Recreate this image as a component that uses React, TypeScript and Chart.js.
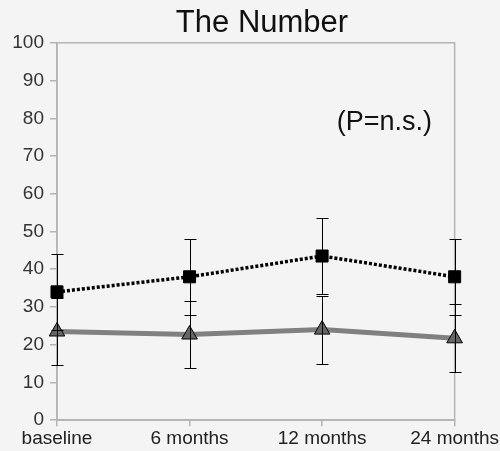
import React, { useEffect, useRef } from "react";
import { Chart, registerables } from "chart.js";

Chart.register(...registerables);

const categories = ["baseline", "6 months", "12 months", "24 months"];
const squareValues = [34, 38, 43.5, 38];
const squareErrors = [10, 10, 10, 10];
const triangleValues = [23.5, 22.7, 24, 21.7];
const triangleErrors = [9, 9, 9, 9];
const yTicks = [0, 10, 20, 30, 40, 50, 60, 70, 80, 90, 100];
const titleText = "The Number";
const noteText = "(P=n.s.)";

const FONT = "'Liberation Sans', Arial, sans-serif";

const errorBarPlugin = {
  id: "errorBars",
  afterDatasetsDraw(chart: any) {
    const { ctx, scales } = chart;
    const x = scales.x;
    const y = scales.y;
    const sets = [
      { vals: squareValues, errs: squareErrors },
      { vals: triangleValues, errs: triangleErrors },
    ];
    ctx.save();
    ctx.strokeStyle = "#000";
    ctx.lineWidth = 1;
    const cap = 6;
    sets.forEach((s) => {
      s.vals.forEach((v, i) => {
        const px = Math.round(x.getPixelForValue(i)) + 0.5;
        const top = Math.round(y.getPixelForValue(v + s.errs[i])) + 0.5;
        const bot = Math.round(y.getPixelForValue(v - s.errs[i])) + 0.5;
        ctx.beginPath();
        ctx.moveTo(px, top);
        ctx.lineTo(px, bot);
        ctx.moveTo(px - cap, top);
        ctx.lineTo(px + cap, top);
        ctx.moveTo(px - cap, bot);
        ctx.lineTo(px + cap, bot);
        ctx.stroke();
      });
    });
    ctx.restore();
  },
};

const framePlugin = {
  id: "frame",
  beforeDatasetsDraw(chart: any) {
    const { ctx, chartArea } = chart;
    ctx.save();
    ctx.strokeStyle = "#b4b4b4";
    ctx.lineWidth = 1.5;
    ctx.strokeRect(chartArea.left, chartArea.top, chartArea.right - chartArea.left, chartArea.bottom - chartArea.top);
    ctx.restore();
  },
  afterDraw(chart: any) {
    const { ctx, scales } = chart;
    ctx.save();
    ctx.fillStyle = "#111";
    ctx.font = `27px ${FONT}`;
    ctx.textAlign = "center";
    ctx.textBaseline = "middle";
    ctx.fillText(noteText, scales.x.getPixelForValue(2.47), scales.y.getPixelForValue(79));
    ctx.font = `31px ${FONT}`;
    ctx.fillText(titleText, 262, 23);
    ctx.restore();
  },
};

const bgPlugin = {
  id: "bg",
  beforeDraw(chart: any) {
    const { ctx, width, height } = chart;
    ctx.save();
    ctx.fillStyle = "#f4f4f4";
    ctx.fillRect(0, 0, width, height);
    ctx.restore();
  },
};

export default function App() {
  const ref = useRef<HTMLCanvasElement>(null);
  useEffect(() => {
    if (!ref.current) return;
    const chart = new Chart(ref.current, {
      type: "line",
      data: {
        labels: categories,
        datasets: [
          {
            label: "A",
            data: squareValues,
            borderColor: "#000",
            borderWidth: 3.5,
            borderDash: [3, 2],
            pointStyle: "rect",
            pointRadius: 8.5,
            pointBackgroundColor: "#000",
            pointBorderColor: "#000",
            pointBorderWidth: 1,
            tension: 0,
          },
          {
            label: "B",
            data: triangleValues,
            borderColor: "#808080",
            borderWidth: 5,
            pointStyle: "triangle",
            pointRadius: 9,
            pointBackgroundColor: "#666",
            pointBorderColor: "#000",
            pointBorderWidth: 1,
            tension: 0,
          },
        ],
      },
      options: {
        animation: false,
        responsive: false,
        layout: { padding: { left: 0, right: 0, top: 0, bottom: 0 } },
        plugins: {
          legend: { display: false },
          tooltip: { enabled: false },
          title: {
            display: true,
            text: titleText,
            color: "rgba(0,0,0,0)",
            font: { family: FONT, size: 29, weight: "normal" },
            padding: { top: 4, bottom: 4 },
          },
        },
        scales: {
          x: {
            offset: false,
            grid: { display: true, drawOnChartArea: false, color: "#b4b4b4", tickLength: 6, lineWidth: 1.5 },
            border: { display: true, color: "#b4b4b4", width: 1.5 },
            ticks: { color: "#222", font: { family: FONT, size: 19 }, padding: 1, maxRotation: 0, autoSkip: false },
          },
          y: {
            min: 0,
            max: 100,
            afterFit(s: any) { s.width = 57; },
            afterBuildTicks(s: any) { s.ticks = yTicks.map((v) => ({ value: v })); },
            grid: { display: true, drawOnChartArea: false, color: "#b4b4b4", tickLength: 7, lineWidth: 1.5 },
            border: { display: true, color: "#b4b4b4", width: 1.5 },
            ticks: { color: "#333", font: { family: FONT, size: 19 }, padding: 6 },
          },
        },
      },
      plugins: [bgPlugin, framePlugin, errorBarPlugin],
    });
    return () => chart.destroy();
  }, []);
  return (
    <div style={{ position: "fixed", left: 0, top: 0, width: 500, height: 451, background: "#f4f4f4" }}>
      <canvas ref={ref} width={500} height={451} style={{ width: 500, height: 451, display: "block" }} />
    </div>
  );
}
